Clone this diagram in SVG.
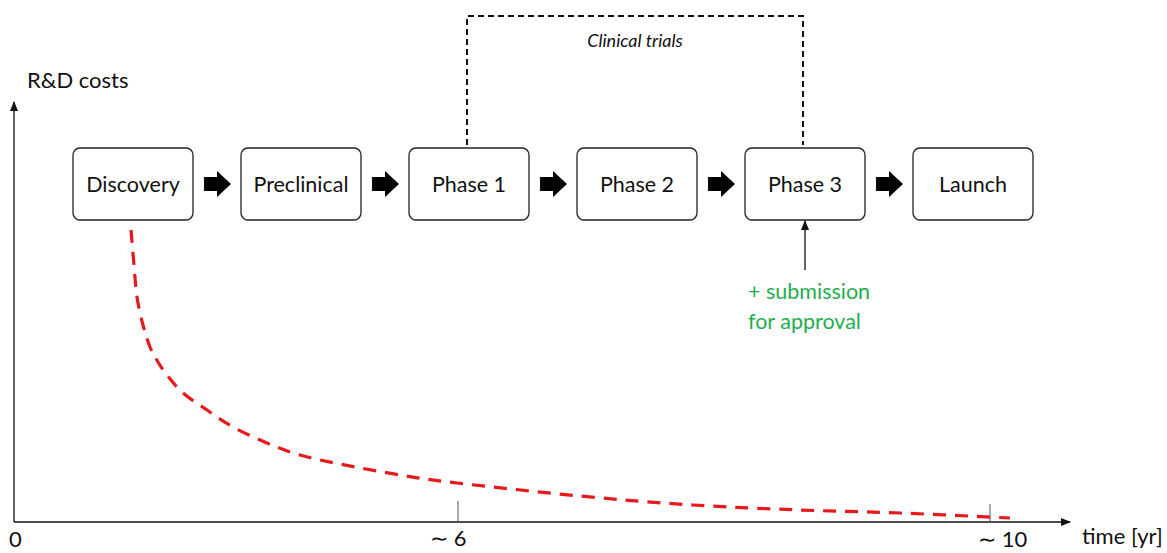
<svg xmlns="http://www.w3.org/2000/svg" width="1167" height="553" viewBox="0 0 1167 553">
<style>
.box{fill:#fff;stroke:#222;stroke-width:1.3}
.lbl{font-family:Lato,"Open Sans",sans-serif;font-size:21.5px;fill:#111;text-anchor:middle}
.ax{stroke:#111;stroke-width:1.3;fill:none}
.tick{stroke:#555;stroke-width:1}
.txt{font-family:Lato,"Open Sans",sans-serif;font-size:22px;fill:#111}
.blk{fill:#000}
</style>
<defs>
<marker id="ah" markerWidth="10" markerHeight="10" refX="9" refY="5" orient="auto" markerUnits="userSpaceOnUse">
<path d="M0,1 L10,5 L0,9 Z" fill="#111"/>
</marker>
<path id="barrow" d="M0,-7 L13,-7 L13,-13 L27,0 L13,13 L13,7 L0,7 Z"/>
</defs>
<rect width="1167" height="553" fill="#fff"/>
<g id="axes">
<line class="ax" x1="14" y1="522" x2="14" y2="102" marker-end="url(#ah)"/>
<line class="ax" x1="14" y1="522" x2="1070" y2="522" marker-end="url(#ah)"/>
<line class="tick" x1="458" y1="501" x2="458" y2="522"/>
<line class="tick" x1="990" y1="504" x2="990" y2="522"/>
<text class="txt" x="27" y="88">R&amp;D costs</text>
<text class="txt" x="9" y="547">0</text>
<text class="txt" x="430" y="546">∼ 6</text>
<text class="txt" x="978" y="547">∼ 10</text>
<text class="txt" x="1082" y="544">time [yr]</text>
</g>
<g id="cost-curve">
<path d="M131,230 C131.5,235.8 133,253.8 134,265 C135,276.2 135.5,287 137,297 C138.5,307 140.8,316.7 143,325 C145.2,333.3 147.5,340.8 150,347 C152.5,353.2 155.2,357.3 158,362 C160.8,366.7 162.8,369.8 167,375 C171.2,380.2 176.3,387.2 183,393 C189.7,398.8 198.7,404.3 207,410 C215.3,415.7 223,421.5 233,427 C243,432.5 255.8,438.3 267,443 C278.2,447.7 287.8,451.5 300,455 C312.2,458.5 323.3,460.7 340,464 C356.7,467.3 380.5,471.8 400,475 C419.5,478.2 427,479.5 457,483 C487,486.5 540.7,492.3 580,496 C619.3,499.7 656.3,502.7 693,505 C729.7,507.3 765.5,508.7 800,510 C834.5,511.3 865,511.7 900,513 C935,514.3 991.7,517.2 1010,518" fill="none" stroke="#e8191c" stroke-width="3.2" stroke-dasharray="13,9"/>
</g>
<g id="node-discovery"><rect class="box" x="73" y="148" width="120" height="72" rx="7"/><text class="lbl" x="133" y="192">Discovery</text></g>
<g id="node-preclinical"><rect class="box" x="241" y="148" width="120" height="72" rx="7"/><text class="lbl" x="301" y="192">Preclinical</text></g>
<g id="node-phase1"><rect class="box" x="409" y="148" width="120" height="72" rx="7"/><text class="lbl" x="469" y="192">Phase 1</text></g>
<g id="node-phase2"><rect class="box" x="577" y="148" width="120" height="72" rx="7"/><text class="lbl" x="637" y="192">Phase 2</text></g>
<g id="node-phase3"><rect class="box" x="745" y="148" width="120" height="72" rx="7"/><text class="lbl" x="805" y="192">Phase 3</text></g>
<g id="node-launch"><rect class="box" x="913" y="148" width="120" height="72" rx="7"/><text class="lbl" x="973" y="192">Launch</text></g>
<g id="connectors">
<use href="#barrow" class="blk" x="204" y="184"/>
<use href="#barrow" class="blk" x="372" y="184"/>
<use href="#barrow" class="blk" x="540" y="184"/>
<use href="#barrow" class="blk" x="708" y="184"/>
<use href="#barrow" class="blk" x="876" y="184"/>
<path d="M467,145 L467,16 L803,16 L803,145" fill="none" stroke="#111" stroke-width="2" stroke-dasharray="6,4"/>
<text x="635" y="47" font-family="Lato,'Open Sans',sans-serif" font-size="18" font-style="italic" fill="#111" text-anchor="middle">Clinical trials</text>
<line class="ax" x1="805" y1="270" x2="805" y2="221" marker-end="url(#ah)"/>
<text font-family="Lato,'Open Sans',sans-serif" font-size="21.5" fill="#1fae4e"><tspan x="748" y="299">+ submission</tspan><tspan x="748" y="329">for approval</tspan></text>
</g>
</svg>
